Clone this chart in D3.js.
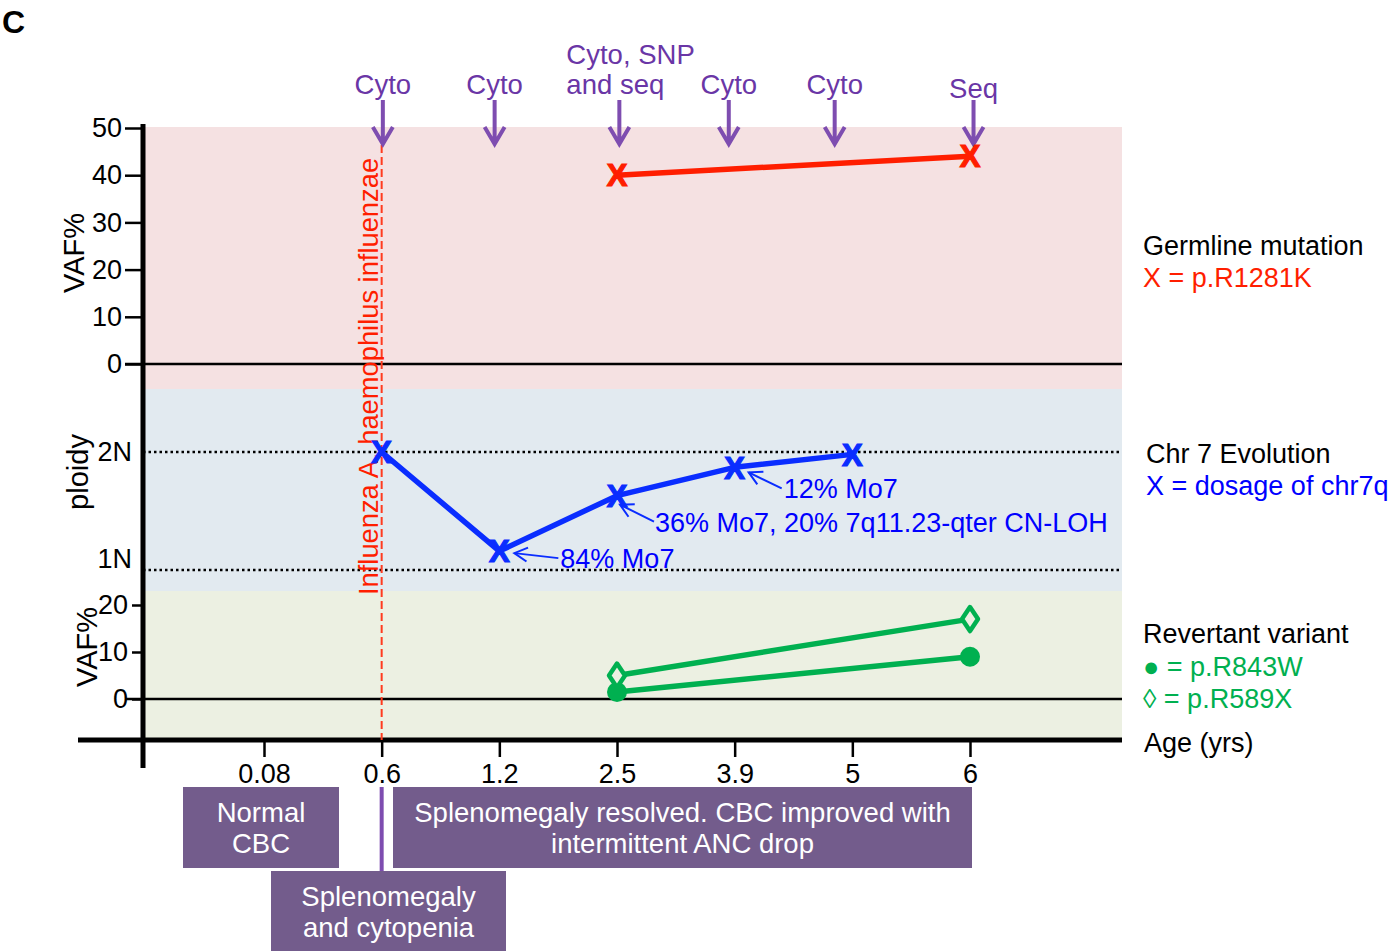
<!DOCTYPE html>
<html lang="en">
<head>
  <meta charset="utf-8">
  <title>Panel C</title>
  <style>
    body { margin: 0; background: #fff; }
    svg text { font-family: "Liberation Sans", Arial, Helvetica, sans-serif; }
  </style>
</head>
<body>
<div id="chart"></div>

<script src="https://cdn.jsdelivr.net/npm/d3@7/dist/d3.min.js"></script>
<script>
    ////////////////////////////////////////////////// DATA
    var ages = ["0.08", "0.6", "1.2", "2.5", "3.9", "5", "6"];

    // germline mutation p.R1281K (VAF %)
    var germlineAges = ["2.5", "6"];
    var germlineVaf  = [40, 44];

    // chr7q dosage (ploidy)
    var ploidyAges = ["0.6", "1.2", "2.5", "3.9", "5"];
    var ploidyVals = [2.0, 1.16, 1.63, 1.87, 1.98];
    var ploidyNotes = [null, "84% Mo7", "36% Mo7, 20% 7q11.23-qter CN-LOH", "12% Mo7", null];

    // revertant variants (VAF %)
    var revertAges = ["2.5", "6"];
    var r843wVaf   = [1.5, 9];
    var r589xVaf   = [5, 17];

    // sampling arrows (position in age-index units) and their labels
    var samplePos    = [1.01, 1.96, 3.02, 3.95, 4.85, 6.03];
    var sampleLabels = [["Cyto"], ["Cyto"], ["Cyto, SNP", "and seq"], ["Cyto"], ["Cyto"], ["Seq"]];

    var topTicks = [0, 10, 20, 30, 40, 50];
    var botTicks = [0, 10, 20];
    var ploidyTicks = [1, 2];
    var ploidyLabels = ["1N", "2N"];

    ////////////////////////////////////////////////// SETUP
    var W = 1397, H = 951;
    var axX = 143, axY = 740, right = 1122;
    var purple = "#7e4db0", boxCol = "#735c8c";
    var red = "#ff1e00", blue = "#0a2dff", green = "#00b050";
    var fs = 27;

    var svg = d3.select("#chart").append("svg")
        .attr("width", W).attr("height", H)
        .style("display", "block");

    var x = d3.scalePoint().domain(ages).range([264, 970]);
    var xi = d3.scaleLinear().domain([0, ages.length - 1]).range([264, 970]);
    var yTop = d3.scaleLinear().domain([0, 50]).range([364, 128]);
    var yPl  = d3.scaleLinear().domain([1, 2]).range([570, 452]);
    var yBot = d3.scaleLinear().domain([0, 20]).range([699, 605]);

    // bands
    svg.append("rect").attr("x", axX).attr("y", 127).attr("width", right - axX).attr("height", 262).attr("fill", "#f5e1e2");
    svg.append("rect").attr("x", axX).attr("y", 389).attr("width", right - axX).attr("height", 202).attr("fill", "#e2eaf0");
    svg.append("rect").attr("x", axX).attr("y", 591).attr("width", right - axX).attr("height", 147).attr("fill", "#ecf0e2");

    // panel letter
    svg.append("text").attr("x", 2).attr("y", 33).attr("font-size", 32).attr("font-weight", "bold").text("C");

    ////////////////////////////////////////////////// AXES
    function styleAxis(g) {
        g.select(".domain").remove();
        g.selectAll(".tick line").attr("stroke", "#000").attr("stroke-width", 2.5);
        g.selectAll(".tick text").attr("font-size", fs).attr("fill", "#000")
            .style("font-family", "'Liberation Sans', Arial, sans-serif");
    }

    svg.append("g").attr("transform", `translate(${axX},0)`)
        .call(d3.axisLeft(yTop).tickValues(topTicks).tickSize(18).tickPadding(3))
        .call(styleAxis);
    svg.append("g").attr("transform", `translate(${axX},0)`)
        .call(d3.axisLeft(yBot).tickValues(botTicks).tickSize(11).tickPadding(4))
        .call(styleAxis);
    svg.append("g").attr("transform", `translate(0,${axY})`)
        .call(d3.axisBottom(x).tickSize(17).tickPadding(7))
        .call(styleAxis);

    // ploidy labels
    svg.append("g").selectAll("text")
        .data(ploidyTicks)
        .join("text")
        .attr("x", 132)
        .attr("y", d => d === 2 ? yPl(d) + 9 : yPl(d) - 2)
        .attr("text-anchor", "end")
        .attr("font-size", fs)
        .text((d, i) => ploidyLabels[i]);

    // zero lines and dotted ploidy guides
    [yTop(0), yBot(0)].forEach(function(yy) {
        svg.append("line").attr("x1", 125).attr("x2", right).attr("y1", yy).attr("y2", yy)
            .attr("stroke", "#000").attr("stroke-width", 2.5);
    });
    ploidyTicks.forEach(function(v) {
        svg.append("line").attr("x1", axX).attr("x2", right).attr("y1", yPl(v)).attr("y2", yPl(v))
            .attr("stroke", "#000").attr("stroke-width", 2.5).attr("stroke-dasharray", "2.5,3");
    });

    // main axis lines
    svg.append("line").attr("x1", axX).attr("x2", axX).attr("y1", 124).attr("y2", 768)
        .attr("stroke", "#000").attr("stroke-width", 5);
    svg.append("line").attr("x1", 78).attr("x2", right).attr("y1", axY).attr("y2", axY)
        .attr("stroke", "#000").attr("stroke-width", 5);

    // axis titles
    function vTitle(txt, bx, cy) {
        svg.append("text").attr("transform", `translate(${bx},${cy}) rotate(-90)`)
            .attr("text-anchor", "middle").attr("font-size", 29).text(txt);
    }
    vTitle("VAF%", 84, 253);
    vTitle("ploidy", 88, 472);
    vTitle("VAF%", 97, 647);

    ////////////////////////////////////////////////// INFECTION LINE
    svg.append("line").attr("x1", x("0.6")).attr("x2", x("0.6")).attr("y1", 145).attr("y2", axY)
        .attr("stroke", "#ff3b1f").attr("stroke-width", 2).attr("stroke-dasharray", "8,4");
    svg.append("text")
        .attr("transform", `translate(${x("0.6") - 4},595) rotate(-90)`)
        .attr("font-size", 27.3).attr("fill", red)
        .text("Influenza A, haemophilus influenzae");

    ////////////////////////////////////////////////// SAMPLING ARROWS
    var samp = svg.append("g").selectAll("g")
        .data(samplePos)
        .join("g")
        .attr("transform", d => `translate(${xi(d)},0)`);

    samp.append("path")
        .attr("d", "M0,100V144M-10,127L0,144L10,127")
        .attr("fill", "none").attr("stroke", purple).attr("stroke-width", 4);

    samp.each(function(d, i) {
        var lines = sampleLabels[i];
        var g = d3.select(this);
        lines.forEach(function(l, j) {
            var t = g.append("text")
                .attr("y", 94 - (lines.length - 1 - j) * 30 + (l === "Seq" ? 4 : 0))
                .attr("font-size", 27.5).attr("fill", "#6a36a6")
                .text(l);
            if (lines.length > 1) t.attr("x", -53).attr("text-anchor", "start");
            else t.attr("text-anchor", "middle");
        });
    });

    ////////////////////////////////////////////////// MARKERS
    function xMark(g, px, py, col) {
        g.append("text").attr("x", px).attr("y", py).attr("dy", "0.36em")
            .attr("text-anchor", "middle").attr("font-size", 31).attr("font-weight", "bold")
            .attr("fill", col).attr("stroke", col).attr("stroke-width", 1.2).text("X");
    }

    var line = d3.line();

    // germline
    var gPts = germlineAges.map((a, i) => [x(a), yTop(germlineVaf[i])]);
    svg.append("path").attr("d", line(gPts)).attr("fill", "none")
        .attr("stroke", red).attr("stroke-width", 5.5);
    var gm = svg.append("g");
    gPts.forEach(p => xMark(gm, p[0], p[1], red));

    // ploidy
    var pPts = ploidyAges.map((a, i) => [x(a), yPl(ploidyVals[i])]);
    svg.append("path").attr("d", line(pPts)).attr("fill", "none")
        .attr("stroke", blue).attr("stroke-width", 5.5).attr("stroke-linejoin", "round");
    var pm = svg.append("g");
    pPts.forEach(p => xMark(pm, p[0], p[1], blue));

    // note arrows
    svg.append("defs").append("marker")
        .attr("id", "openArrow").attr("viewBox", "0 0 16 16")
        .attr("refX", 1).attr("refY", 8).attr("markerWidth", 16).attr("markerHeight", 16)
        .attr("markerUnits", "userSpaceOnUse").attr("orient", "auto")
        .append("path").attr("d", "M15,1L1,8L15,15").attr("fill", "none")
        .attr("stroke", blue).attr("stroke-width", 2);

    var noteOff = { 1: [[15, 2], [59, 7], [61, 17]], 2: [[3, 9], [37, 26], [38, 36]], 3: [[14, 5], [47, 21], [49, 31]] };
    ploidyNotes.forEach(function(n, i) {
        if (!n) return;
        var p = pPts[i], o = noteOff[i];
        // draw from tail towards the point so the open head sits on the mark
        var dx = o[0][0] - o[1][0], dy = o[0][1] - o[1][1];
        svg.append("line")
            .attr("x1", p[0] + o[1][0]).attr("y1", p[1] + o[1][1])
            .attr("x2", p[0] + o[0][0]).attr("y2", p[1] + o[0][1])
            .attr("stroke", blue).attr("stroke-width", 2);
        var ang = Math.atan2(dy, dx) * 180 / Math.PI;
        svg.append("path")
            .attr("transform", `translate(${p[0] + o[0][0]},${p[1] + o[0][1]}) rotate(${ang})`)
            .attr("d", "M-13,-7L0,0L-13,7").attr("fill", "none")
            .attr("stroke", blue).attr("stroke-width", 2);
        svg.append("text").attr("x", p[0] + o[2][0]).attr("y", p[1] + o[2][1])
            .attr("font-size", fs).attr("fill", "#0000ff").text(n);
    });

    // revertants
    var cPts = revertAges.map((a, i) => [x(a), yBot(r843wVaf[i])]);
    var dPts = revertAges.map((a, i) => [x(a), yBot(r589xVaf[i])]);
    [dPts, cPts].forEach(function(pts) {
        svg.append("path").attr("d", line(pts)).attr("fill", "none")
            .attr("stroke", green).attr("stroke-width", 5.5);
    });
    svg.append("g").selectAll("circle").data(cPts).join("circle")
        .attr("cx", d => d[0]).attr("cy", d => d[1]).attr("r", 10).attr("fill", green);
    svg.append("g").selectAll("path").data(dPts).join("path")
        .attr("d", d => `M${d[0]},${d[1] - 12}L${d[0] + 8},${d[1]}L${d[0]},${d[1] + 12}L${d[0] - 8},${d[1]}Z`)
        .attr("fill", "#ecf0e2").attr("stroke", green).attr("stroke-width", 4.5)
        .attr("stroke-linejoin", "round");

    ////////////////////////////////////////////////// LEGENDS
    var legend = [
        { x: 1143, y: 255, t: "Germline mutation", c: "#000" },
        { x: 1143, y: 287, t: "X = p.R1281K", c: red },
        { x: 1146, y: 463, t: "Chr 7 Evolution", c: "#000" },
        { x: 1146, y: 495, t: "X = dosage of chr7q", c: "#0000ff" },
        { x: 1143, y: 643, t: "Revertant variant", c: "#000" },
        { x: 1143, y: 676, t: "\u25CF = p.R843W", c: green },
        { x: 1143, y: 708, t: "\u25CA = p.R589X", c: green },
        { x: 1144, y: 752, t: "Age (yrs)", c: "#000" }
    ];
    svg.append("g").selectAll("text").data(legend).join("text")
        .attr("x", d => d.x).attr("y", d => d.y).attr("font-size", fs)
        .attr("fill", d => d.c).text(d => d.t);

    ////////////////////////////////////////////////// PHASE BOXES
    var boxes = [
        { x0: 183, x1: 339, y0: 787, y1: 868, lines: ["Normal", "CBC"] },
        { x0: 393, x1: 972, y0: 787, y1: 868, lines: ["Splenomegaly resolved. CBC improved with", "intermittent ANC drop"] },
        { x0: 271, x1: 506, y0: 871, y1: 951, lines: ["Splenomegaly", "and cytopenia"] }
    ];
    var bx = svg.append("g").selectAll("g").data(boxes).join("g");
    bx.append("rect").attr("x", d => d.x0).attr("y", d => d.y0)
        .attr("width", d => d.x1 - d.x0).attr("height", d => d.y1 - d.y0).attr("fill", boxCol);
    bx.each(function(d) {
        var g = d3.select(this);
        d.lines.forEach(function(l, j) {
            g.append("text").attr("x", (d.x0 + d.x1) / 2).attr("y", d.y0 + 35 + j * 31)
                .attr("text-anchor", "middle").attr("font-size", 27.5).attr("fill", "#fff").text(l);
        });
    });
    svg.append("line").attr("x1", x("0.6")).attr("x2", x("0.6")).attr("y1", 787).attr("y2", 871)
        .attr("stroke", purple).attr("stroke-width", 4);
</script>
</body>
</html>
